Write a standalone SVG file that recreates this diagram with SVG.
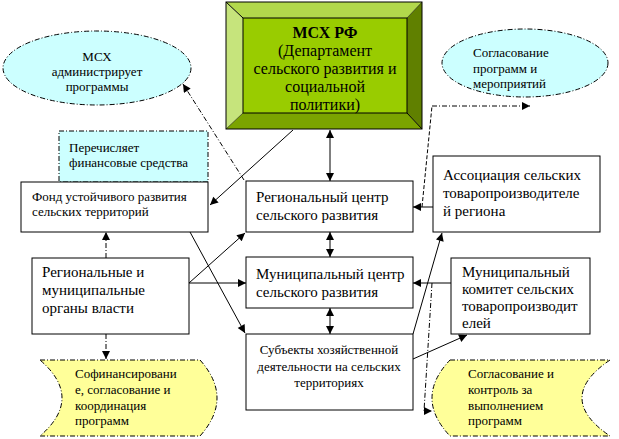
<svg xmlns="http://www.w3.org/2000/svg" width="619" height="439" viewBox="0 0 619 439" font-family="'Liberation Serif', 'DejaVu Serif', serif">
<defs>
<marker id="ah" viewBox="0 0 10 10" refX="10" refY="5" markerWidth="9" markerHeight="8" markerUnits="userSpaceOnUse" orient="auto-start-reverse">
<path d="M0,0 L10,5 L0,10 Z" fill="#000"/>
</marker>
<style>
text{font-family:'Liberation Serif','DejaVu Serif',serif;fill:#000}
.box{fill:#fff;stroke:#000;stroke-width:1}
.t16{font-size:16px}
.t15{font-size:15px}
.t13{font-size:13px}
.dd{stroke-dasharray:5,2,1,2}
.con{fill:none;stroke:#000;stroke-width:1}
.cyan{fill:#ccffff;stroke:#000;stroke-width:1;stroke-dasharray:5,2,1,2}
.yel{fill:#ffff99;stroke:#000;stroke-width:1;stroke-dasharray:5,2,1,2}
</style>
</defs>
<rect width="619" height="439" fill="#fff"/>

<g id="msx">
<polygon points="226,2 422,2 407,18 243,18" fill="#b2d84c"/>
<polygon points="226,2 243,18 243,113 226,129" fill="#c6e47c"/>
<polygon points="422,2 422,129 407,113 407,18" fill="#608000"/>
<polygon points="226,129 243,113 407,113 422,129" fill="#7ba400"/>
<rect x="243" y="18" width="164" height="95" fill="#99cc00" stroke="#000"/>
<line x1="226" y1="2" x2="243" y2="18" stroke="#000"/>
<line x1="422" y1="129" x2="407" y2="113" stroke="#000"/>
<line x1="422" y1="2" x2="407" y2="18" stroke="#000" stroke-width="0.5"/>
<line x1="226" y1="129" x2="243" y2="113" stroke="#000" stroke-width="0.5"/>
<rect x="226" y="2" width="196" height="127" fill="none" stroke="#000"/>
<text x="325" y="38" text-anchor="middle" class="t16" font-weight="bold">МСХ РФ</text>
<text x="325" y="56" text-anchor="middle" class="t16">(Департамент</text>
<text x="325" y="74" text-anchor="middle" class="t16">сельского развития и</text>
<text x="325" y="92" text-anchor="middle" class="t16">социальной</text>
<text x="325" y="110" text-anchor="middle" class="t16">политики)</text>
</g>

<g id="ell-msx">
<ellipse cx="97" cy="68" rx="94" ry="37" class="cyan"/>
<text x="97" y="61" text-anchor="middle" class="t13">МСХ</text>
<text x="97" y="76" text-anchor="middle" class="t13">администрирует</text>
<text x="97" y="91" text-anchor="middle" class="t13">программы</text>
</g>

<g id="ell-sogl">
<ellipse cx="525" cy="63" rx="83" ry="34" class="cyan"/>
<text x="473" y="57" class="t13">Согласование</text>
<text x="473" y="73" class="t13">программ и</text>
<text x="473" y="88" class="t13">мероприятий</text>
</g>

<g id="perech">
<rect x="59" y="131" width="149" height="51" class="cyan"/>
<text x="69" y="152" class="t13">Перечисляет</text>
<text x="69" y="167" class="t13">финансовые средства</text>
</g>

<g id="fond">
<rect x="21" y="182" width="187" height="50" class="box"/>
<text x="32" y="201" class="t13">Фонд устойчивого развития</text>
<text x="32" y="216" class="t13">сельских территорий</text>
</g>

<g id="regc">
<rect x="246" y="181" width="167" height="51" class="box"/>
<text x="256" y="202" class="t15">Региональный центр</text>
<text x="256" y="220" class="t15">сельского развития</text>
</g>

<g id="munc">
<rect x="246" y="257" width="167" height="51" class="box"/>
<text x="256" y="279" class="t15">Муниципальный центр</text>
<text x="256" y="297" class="t15">сельского развития</text>
</g>

<g id="subj">
<rect x="246" y="334" width="167" height="76" class="box"/>
<text x="329" y="354" text-anchor="middle" class="t13">Субъекты хозяйственной</text>
<text x="329" y="371" text-anchor="middle" class="t13">деятельности на сельских</text>
<text x="329" y="387" text-anchor="middle" class="t13">территориях</text>
</g>

<g id="assoc">
<rect x="433" y="156" width="167" height="76" class="box"/>
<text x="443" y="180" class="t15">Ассоциация сельских</text>
<text x="443" y="198" class="t15">товаропроизводителе</text>
<text x="443" y="216" class="t15">й региона</text>
</g>

<g id="muncom">
<rect x="451" y="258" width="139" height="76" class="box"/>
<text x="462" y="277" class="t15">Муниципальный</text>
<text x="462" y="294" class="t15">комитет сельских</text>
<text x="462" y="311" class="t15">товаропроизводит</text>
<text x="462" y="328" class="t15">елей</text>
</g>

<g id="regauth">
<rect x="32" y="258" width="157" height="76" class="box"/>
<text x="42" y="277" class="t15">Региональные и</text>
<text x="42" y="295" class="t15">муниципальные</text>
<text x="42" y="313" class="t15">органы власти</text>
</g>

<g id="cofin">
<path d="M40,360 L200,360 Q234,398 200,436 L40,436 Q84,398 40,360 Z" class="yel"/>
<text x="75" y="378" class="t13">Софинансировани</text>
<text x="75" y="394" class="t13">е, согласование и</text>
<text x="75" y="410" class="t13">координация</text>
<text x="75" y="425" class="t13">программ</text>
</g>

<g id="control">
<path d="M450,360 L610,360 Q554,398 610,436 L450,436 Q414,398 450,360 Z" class="yel"/>
<text x="468" y="378" class="t13">Согласование и</text>
<text x="468" y="394" class="t13">контроль за</text>
<text x="468" y="410" class="t13">выполнением</text>
<text x="468" y="425" class="t13">программ</text>
</g>

<g id="connectors">
<line x1="293" y1="130" x2="210" y2="205" class="con" marker-end="url(#ah)"/>
<line x1="244" y1="180" x2="183" y2="84" class="con dd" marker-end="url(#ah)"/>
<line x1="330" y1="130" x2="330" y2="181" class="con" marker-start="url(#ah)" marker-end="url(#ah)"/>
<line x1="330" y1="232" x2="330" y2="257" class="con" marker-start="url(#ah)" marker-end="url(#ah)"/>
<line x1="330" y1="308" x2="330" y2="334" class="con" marker-start="url(#ah)" marker-end="url(#ah)"/>
<line x1="433" y1="207" x2="413" y2="207" class="con" marker-end="url(#ah)"/>
<polyline points="422,207 432,106" class="con" stroke-dasharray="4,2"/>
<polyline points="432,106 530,106" class="con dd" marker-end="url(#ah)"/>
<line x1="451" y1="283" x2="413" y2="283" class="con" marker-end="url(#ah)"/>
<polyline points="432,283 424,411 432,411" class="con dd" marker-end="url(#ah)"/>
<line x1="413" y1="359" x2="467" y2="335" class="con" marker-end="url(#ah)"/>
<line x1="413" y1="334" x2="442" y2="233" class="con" marker-end="url(#ah)"/>
<line x1="190" y1="232" x2="245" y2="333" class="con" marker-end="url(#ah)"/>
<line x1="189" y1="283" x2="245" y2="233" class="con" marker-end="url(#ah)"/>
<line x1="189" y1="283" x2="246" y2="283" class="con" marker-end="url(#ah)"/>
<line x1="106" y1="258" x2="106" y2="232" class="con dd" marker-end="url(#ah)"/>
<line x1="106" y1="334" x2="106" y2="359" class="con dd" marker-end="url(#ah)"/>
</g>
</svg>
